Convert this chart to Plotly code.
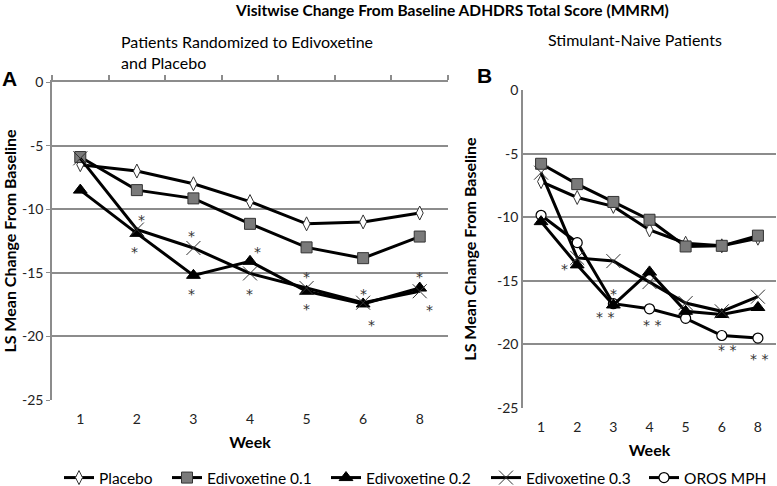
import plotly.graph_objects as go

weeks = ["1", "2", "3", "4", "5", "6", "8"]

# Panel A: Patients randomized to edivoxetine and placebo
placebo_a = [-6.5, -7.0, -8.0, -9.4, -11.15, -11.0, -10.3]
edi01_a = [-5.9, -8.5, -9.15, -11.15, -13.0, -13.85, -12.15]
edi02_a = [-8.5, -11.9, -15.2, -14.1, -16.45, -17.45, -16.2]
edi03_a = [-6.0, -11.6, -13.05, -15.05, -16.2, -17.35, -16.45]

# Panel B: Stimulant-naive patients
placebo_b = [-7.2, -8.45, -9.15, -11.0, -12.05, -12.25, -11.65]
edi01_b = [-5.8, -7.4, -8.8, -10.2, -12.3, -12.25, -11.45]
edi02_b = [-10.35, -13.75, -16.9, -14.3, -17.4, -17.65, -17.1]
edi03_b = [-6.5, -13.2, -13.45, -15.1, -16.75, -17.4, -16.25]
oros_b = [-9.85, -12.0, -16.8, -17.2, -17.95, -19.3, -19.5]

# significance markers: (week index, value, text, x shift px)
stars_a = [(1, -10.7, "*", 5), (1, -13.2, "*", -2), (2, -11.95, "*", -2), (2, -16.5, "*", -2),
           (3, -13.2, "*", 7), (3, -16.5, "*", -1), (4, -15.2, "*", 0), (4, -17.7, "*", 0),
           (5, -16.5, "*", 0), (5, -18.95, "*", 8), (6, -15.2, "*", 0), (6, -17.8, "*", 10)]
stars_b = [(1, -13.9, "*", -13), (2, -15.9, "*", 0), (2, -17.7, "* *", -8), (3, -18.3, "* *", 2),
           (5, -20.3, "* *", 5), (6, -21.0, "* *", 1)]

series_names = ["Placebo", "Edivoxetine 0.1", "Edivoxetine 0.2", "Edivoxetine 0.3", "OROS MPH"]
legend_text_x = [100, 208, 367, 527, 685]   # left edge of legend texts (px)

W, H = 777, 486
FONT = "Lato"
idx = list(range(len(weeks)))

styles = {
    "Placebo": dict(symbol="diamond-tall", size=10, color="white", line=dict(color="#333", width=1)),
    "Edivoxetine 0.1": dict(symbol="square", size=11, color="#7a7a7a", line=dict(color="#333", width=1)),
    "Edivoxetine 0.2": dict(symbol="triangle-up", size=12, color="black", line=dict(color="black", width=1)),
    "Edivoxetine 0.3": dict(symbol="x-thin-open", size=14, color="#333", line=dict(color="#333", width=1)),
    "OROS MPH": dict(symbol="circle", size=10, color="white", line=dict(color="black", width=1.2)),
}
legend_ids = {n: ("legend" if k == 0 else f"legend{k + 1}") for k, n in enumerate(series_names)}

fig = go.Figure()

def add(name, vals, xa, ya, legend):
    fig.add_trace(go.Scatter(
        x=idx, y=vals, name=name, mode="lines+markers", xaxis=xa, yaxis=ya,
        line=dict(color="black", width=3), marker=styles[name], showlegend=legend,
        legendgroup=name, legend=legend_ids[name]))

add("Placebo", placebo_a, "x", "y", True)
add("Edivoxetine 0.1", edi01_a, "x", "y", True)
add("Edivoxetine 0.2", edi02_a, "x", "y", True)
add("Edivoxetine 0.3", edi03_a, "x", "y", True)
add("Placebo", placebo_b, "x2", "y2", False)
add("Edivoxetine 0.1", edi01_b, "x2", "y2", False)
add("OROS MPH", oros_b, "x2", "y2", True)
add("Edivoxetine 0.2", edi02_b, "x2", "y2", False)
add("Edivoxetine 0.3", edi03_b, "x2", "y2", False)

# invisible trace for top tick axis on panel A
fig.add_trace(go.Scatter(x=idx, y=placebo_a, xaxis="x3", yaxis="y", mode="none",
                         showlegend=False, hoverinfo="skip"))

STARFONT = dict(family="DejaVu Sans", size=14, color="#333")
annos = []
for (i, v, t, dx) in stars_a:
    annos.append(dict(x=i, y=v, xref="x", yref="y", text=t, showarrow=False, xshift=dx, yshift=-2,
                      font=STARFONT))
for (i, v, t, dx) in stars_b:
    annos.append(dict(x=i, y=v, xref="x2", yref="y2", text=t, showarrow=False, xshift=dx, yshift=-2,
                      font=STARFONT))

annos += [
    dict(x=452 / W, y=1 + 1 / H, xref="paper", yref="paper", xanchor="center", yanchor="top",
         text="<b>Visitwise Change From Baseline ADHDRS Total Score (MMRM)</b>", showarrow=False,
         font=dict(family=FONT, size=15.5, color="black")),
    dict(x=119 / W, y=1 - 30 / H, xref="paper", yref="paper", xanchor="left", yanchor="top", align="left",
         text="Patients Randomized to Edivoxetine<br>and Placebo", showarrow=False,
         font=dict(family=FONT, size=16, color="black")),
    dict(x=635 / W, y=1 - 40 / H, xref="paper", yref="paper", xanchor="center", yanchor="middle",
         text="Stimulant-Naive Patients", showarrow=False,
         font=dict(family=FONT, size=16, color="black")),
    dict(x=9 / W, y=1 - 78 / H, xref="paper", yref="paper", xanchor="center", yanchor="middle",
         text="<b>A</b>", showarrow=False, font=dict(family="Liberation Sans", size=21, color="black")),
    dict(x=484 / W, y=1 - 76 / H, xref="paper", yref="paper", xanchor="center", yanchor="middle",
         text="<b>B</b>", showarrow=False, font=dict(family="Liberation Sans", size=21, color="black")),
]

GRID = "#8c8c8c"
tickfont = dict(family=FONT, size=14, color="#222")
titlefont = dict(family=FONT, size=16, color="black")

xcommon = dict(range=[-0.5, len(weeks) - 0.5], tickvals=idx, ticktext=weeks, showgrid=False,
               zeroline=False, showline=False, ticks="outside", ticklen=6, tickcolor="rgba(0,0,0,0)",
               tickfont=tickfont, automargin=False,
               title=dict(text="<b>Week</b>", font=dict(family=FONT, size=16, color="black"), standoff=11))
ycommon = dict(range=[-25, 0], tickvals=[0, -5, -10, -15, -20, -25], ticktext=["0", "-5", "-10", "-15", "-20", "-25"],
               showgrid=True, gridcolor=GRID, gridwidth=1.5, zeroline=False, showline=True,
               linecolor=GRID, linewidth=1.5, tickfont=tickfont, automargin=False,
               title=dict(text="<b>LS Mean Change From Baseline</b>", font=titlefont, standoff=16))

legends = {}
for k, n in enumerate(series_names):
    legends[legend_ids[n]] = dict(
        orientation="h", x=(legend_text_x[k] - 41) / W, xanchor="left", y=1 - 478 / H, yanchor="middle",
        font=dict(family=FONT, size=15.5, color="black"), itemwidth=30, bgcolor="rgba(0,0,0,0)")

fig.update_layout(
    width=W, height=H, margin=dict(l=0, r=0, t=0, b=0, autoexpand=False),
    paper_bgcolor="white", plot_bgcolor="white",
    showlegend=True,
    xaxis=dict(domain=[52 / W, 448 / W], anchor="y", **xcommon),
    xaxis2=dict(domain=[523 / W, 776 / W], anchor="y2", **xcommon),
    xaxis3=dict(overlaying="x", side="top", anchor="y", range=[-0.5, len(weeks) - 0.5],
                tickvals=[i + 0.5 for i in [-1] + idx], showticklabels=False, ticks="outside", ticklen=5,
                tickcolor=GRID, tickwidth=1.5, showline=True, linecolor=GRID, linewidth=1.5,
                showgrid=False, zeroline=False, automargin=False),
    yaxis=dict(domain=[1 - 400 / H, 1 - 82 / H], anchor="x", ticks="outside", ticklen=4, tickcolor=GRID, **ycommon),
    yaxis2=dict(domain=[1 - 408 / H, 1 - 90 / H], anchor="x2", ticks="", **ycommon),
    annotations=annos,
    **legends,
)

fig.write_html("out.html", config={"displayModeBar": False},
               post_script="document.body.style.margin='0px';document.body.style.overflow='hidden';")
